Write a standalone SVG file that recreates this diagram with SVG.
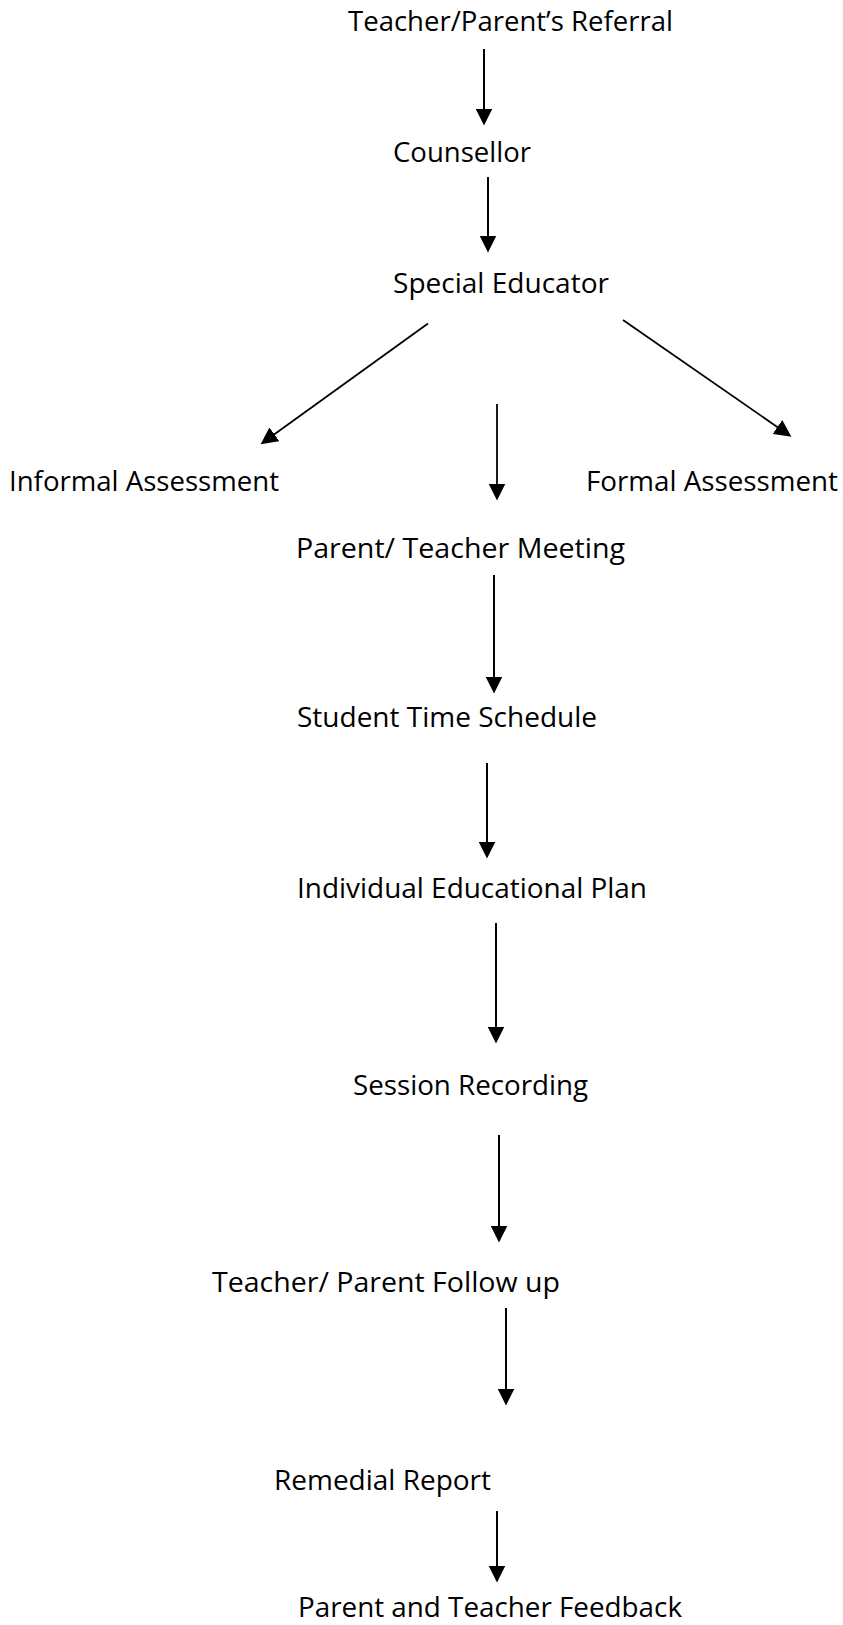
<svg xmlns="http://www.w3.org/2000/svg" width="843" height="1625" viewBox="0 0 843 1625">
  <style>
    .label { font-family: "Open Sans", "Noto Sans", "Liberation Sans", sans-serif; font-size: 27px; fill: #000; }
    .link { stroke: #000; stroke-width: 2; fill: none; marker-end: url(#head); }
    .thin { stroke-width: 1.8; }
  </style>
  <defs>
    <!-- filled triangular arrowhead; tip sits 8px beyond the line end -->
    <marker id="head" markerUnits="userSpaceOnUse" markerWidth="17" markerHeight="17" viewBox="0 0 16 16" refX="8" refY="8" orient="auto">
      <path d="M0,0 L16,8 L0,16 Z" fill="#000"/>
    </marker>
  </defs>
  <rect width="843" height="1625" fill="#fff"/>

  <g id="connectors">
    <line class="link" x1="484" y1="49" x2="484" y2="117"/>
    <line class="link" x1="488" y1="177" x2="488" y2="244"/>
    <line class="link thin" x1="428" y1="323.5" x2="267.5" y2="439.3"/>
    <line class="link thin" x1="497" y1="404" x2="497" y2="492"/>
    <line class="link thin" x1="623" y1="320" x2="784.4" y2="431.9"/>
    <line class="link" x1="494" y1="575" x2="494" y2="685"/>
    <line class="link" x1="487" y1="763" x2="487" y2="850"/>
    <line class="link" x1="496" y1="923" x2="496" y2="1035"/>
    <line class="link" x1="499" y1="1135" x2="499" y2="1234"/>
    <line class="link" x1="506" y1="1308" x2="506" y2="1397"/>
    <line class="link" x1="497" y1="1511" x2="497" y2="1574"/>
  </g>

  <g id="referral"><text class="label" x="348" y="31" textLength="325" lengthAdjust="spacingAndGlyphs">Teacher/Parent’s Referral</text></g>
  <g id="counsellor"><text class="label" x="393" y="162" textLength="138" lengthAdjust="spacingAndGlyphs">Counsellor</text></g>
  <g id="special-educator"><text class="label" x="393" y="293" textLength="216" lengthAdjust="spacingAndGlyphs">Special Educator</text></g>
  <g id="informal-assessment"><text class="label" x="9" y="491" textLength="270" lengthAdjust="spacingAndGlyphs">Informal Assessment</text></g>
  <g id="formal-assessment"><text class="label" x="586" y="491" textLength="252" lengthAdjust="spacingAndGlyphs">Formal Assessment</text></g>
  <g id="parent-teacher-meeting"><text class="label" x="296" y="558" textLength="329" lengthAdjust="spacingAndGlyphs">Parent/ Teacher Meeting</text></g>
  <g id="student-time-schedule"><text class="label" x="297" y="727" textLength="300" lengthAdjust="spacingAndGlyphs">Student Time Schedule</text></g>
  <g id="iep"><text class="label" x="297" y="898" textLength="350" lengthAdjust="spacingAndGlyphs">Individual Educational Plan</text></g>
  <g id="session-recording"><text class="label" x="353" y="1095" textLength="235" lengthAdjust="spacingAndGlyphs">Session Recording</text></g>
  <g id="follow-up"><text class="label" x="212" y="1292" textLength="348" lengthAdjust="spacingAndGlyphs">Teacher/ Parent Follow up</text></g>
  <g id="remedial-report"><text class="label" x="274" y="1490" textLength="217" lengthAdjust="spacingAndGlyphs">Remedial Report</text></g>
  <g id="feedback"><text class="label" x="298" y="1617" textLength="384" lengthAdjust="spacingAndGlyphs">Parent and Teacher Feedback</text></g>
</svg>
